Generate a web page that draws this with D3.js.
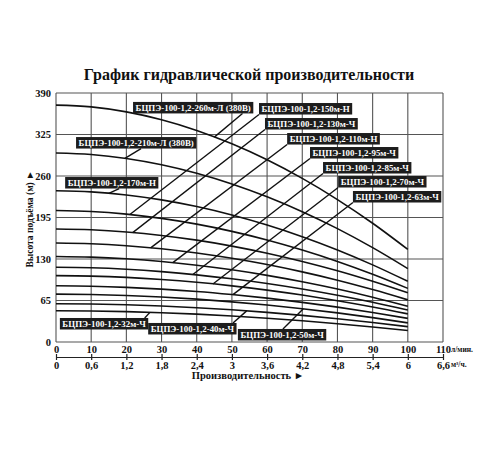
<!DOCTYPE html>
<html><head><meta charset="utf-8">
<script src="https://cdn.jsdelivr.net/npm/d3@7"></script>
<style>
body{margin:0;background:#fff;}
svg{display:block;font-family:"Liberation Serif","Times New Roman",serif;font-weight:bold;}
</style></head>
<body><svg id="c" width="500" height="450"></svg>
<script>
// ---- data ----
const flowLmin = [0,10,20,30,40,50,60,70,80,90,100];
const head260 = [371,368.2,360.4,348.1,331.4,310.4,285.4,256.2,223.1,186,145];
const head210 = [296,293.7,287.5,277.6,264.3,247.5,227.4,204.1,177.6,147.8,115];
const head170 = [237,235.2,230.3,222.6,212.1,198.9,183.2,164.9,144.1,120.8,95];
const head150 = [206,204.5,200.3,193.6,184.6,173.3,159.8,144.0,126.2,106.1,84];
const head130 = [177,175.7,172.3,166.9,159.5,150.2,139.1,126.2,111.6,95.1,77];
const head110 = [155,153.9,150.8,146.0,139.4,131.1,121.3,109.8,96.8,82.1,66];
const head95  = [134,133.0,130.3,126.1,120.3,113.1,104.4,94.4,83.0,70.2,56];
const head85  = [117,116.2,113.9,110.2,105.2,99.0,91.6,83.0,73.2,62.2,50];
const head70  = [104,103.2,101.2,97.9,93.5,87.9,81.3,73.5,64.7,54.9,44];
const head63  = [88,87.4,85.6,82.8,79.1,74.3,68.7,62.1,54.6,46.3,37];
const head50  = [75,74.4,72.9,70.4,67.1,62.9,58.0,52.1,45.6,38.2,30];
const head40  = [60,59.5,58.3,56.3,53.7,50.4,46.4,41.7,36.4,30.5,24];
const head32  = [49,48.6,47.5,45.9,43.6,40.7,37.3,33.3,28.7,23.6,18];
const modelNames = [
 "БЦПЭ-100-1,2-260м-Л (380В)","БЦПЭ-100-1,2-210м-Л (380В)","БЦПЭ-100-1,2-170м-Н",
 "БЦПЭ-100-1,2-150м-Н","БЦПЭ-100-1,2-130м-Ч","БЦПЭ-100-1,2-110м-Н",
 "БЦПЭ-100-1,2-95м-Ч","БЦПЭ-100-1,2-85м-Ч","БЦПЭ-100-1,2-70м-Ч",
 "БЦПЭ-100-1,2-63м-Ч","БЦПЭ-100-1,2-50м-Ч","БЦПЭ-100-1,2-40м-Ч","БЦПЭ-100-1,2-32м-Ч"];
const headSeries = [head260,head210,head170,head150,head130,head110,head95,head85,head70,head63,head50,head40,head32];
const yTicks = [0,65,130,195,260,325,390];
const xTicksLmin = [0,10,20,30,40,50,60,70,80,90,100,110];
const xTicksM3h = [0,0.6,1.2,1.8,2.4,3,3.6,4.2,4.8,5.4,6,6.6];
const titleText = "График гидравлической производительности";
const yTitle = "Высота подъёма (м) ►";
const xTitle = "Производительность ►";

// ---- label annotations (data units): box top-left, leader start fraction along box edge, leader end flow ----
const labelLayout = [
 {q:21.9,h:376,edge:"bottom",f:0.91,endQ:45},
 {q:5.7,h:321,edge:"bottom",f:0.54,endQ:19.6},
 {q:2.6,h:258.4,edge:"bottom",f:0.58,endQ:15},
 {q:57.7,h:374.3,edge:"bottom",f:0,endQ:21},
 {q:59.4,h:350.8,edge:"bottom",f:0,endQ:21.8},
 {q:65.7,h:327.3,edge:"bottom",f:0,endQ:26.9},
 {q:72.2,h:305.4,edge:"bottom",f:0,endQ:33.2},
 {q:75.9,h:281.9,edge:"bottom",f:0,endQ:38.9},
 {q:80.2,h:260,edge:"bottom",f:0,endQ:44.6},
 {q:84.4,h:236.5,edge:"bottom",f:0,endQ:50.3},
 {q:51.7,h:20.4,edge:"top",f:0.51,endQ:70.3},
 {q:26.2,h:29.8,edge:"top",f:0.96,endQ:54.2},
 {q:1.1,h:37.6,edge:"top",f:0.96,endQ:26.7}
];

const svg = d3.select("#c");
const x = d3.scaleLinear().domain([0,110]).range([56,443]);
const x2 = d3.scaleLinear().domain([0,6.6]).range([56,443]);
const y = d3.scaleLinear().domain([0,390]).range([342,93]);
const comma = d => String(d).replace(".", ",");

// title
svg.append("text").attr("x",249).attr("y",80).attr("text-anchor","middle")
  .attr("font-size",16).attr("fill","#111").text(titleText);

// grid
const g = svg.append("g");
g.selectAll("line.v").data(xTicksLmin).join("line")
  .attr("x1",d=>x(d)).attr("x2",d=>x(d)).attr("y1",y(0)).attr("y2",y(390))
  .attr("stroke","#555").attr("stroke-width",1.1);
g.selectAll("line.h").data(yTicks).join("line").attr("class","h")
  .attr("x1",x(0)).attr("x2",x(110)).attr("y1",d=>y(d)).attr("y2",d=>y(d))
  .attr("stroke","#555").attr("stroke-width",1.1);

// y axis
const ya = svg.append("g").attr("transform",`translate(${x(0)},0)`)
  .call(d3.axisLeft(y).tickValues(yTicks).tickSize(0).tickPadding(5));
ya.select(".domain").remove();
ya.selectAll("text").attr("font-size",10.5).attr("fill","#111")
  .attr("font-family","Liberation Serif").attr("font-weight","bold");
svg.append("text").attr("transform",`translate(30,219) rotate(-90)`)
  .attr("text-anchor","middle").attr("dominant-baseline","central")
  .attr("font-size",9.5).attr("fill","#111").text(yTitle);

// x axes
const axY = 357;
const xa1 = svg.append("g").attr("transform",`translate(0,${axY})`)
  .call(d3.axisTop(x).tickValues(xTicksLmin).tickSize(3).tickSizeOuter(0).tickPadding(1));
const xa2 = svg.append("g").attr("transform",`translate(0,${axY})`)
  .call(d3.axisBottom(x2).tickValues(xTicksM3h).tickFormat(comma).tickSize(3).tickSizeOuter(0).tickPadding(2));
[xa1,xa2].forEach(a=>{
  a.select(".domain").attr("stroke","#222").attr("stroke-width",1.2);
  a.selectAll(".tick line").attr("stroke","#222").attr("stroke-width",1.2);
  a.selectAll("text").attr("font-size",10.5).attr("fill","#111")
    .attr("font-family","Liberation Serif").attr("font-weight","bold");
});
svg.append("text").attr("x",451).attr("y",352).attr("font-size",7.5).attr("fill","#111").text("л/мин.");
svg.append("text").attr("x",451).attr("y",367).attr("font-size",7.5).attr("fill","#111").text("м³/ч.");
svg.append("text").attr("x",248).attr("y",379).attr("text-anchor","middle")
  .attr("font-size",10.5).attr("fill","#111").text(xTitle);

// curves
const line = d3.line().x((d,i)=>x(flowLmin[i])).y(d=>y(d)).curve(d3.curveMonotoneX);
svg.append("g").selectAll("path").data(headSeries).join("path")
  .attr("d",line).attr("fill","none").attr("stroke","#111").attr("stroke-width",1.6);

// labels with leaders
const interp = (arr,q)=>{
  const i = Math.min(Math.floor(q/10), arr.length-2);
  const t = (q - flowLmin[i])/(flowLmin[i+1]-flowLmin[i]);
  return arr[i] + (arr[i+1]-arr[i])*t;
};
const lg = svg.append("g");
modelNames.forEach((name,i)=>{
  const L = labelLayout[i];
  const bx = x(L.q), by = y(L.h);
  const grp = lg.append("g");
  const rect = grp.append("rect");
  const t = grp.append("text").attr("x",bx+2.5).attr("y",by+8.9)
    .attr("font-size",8.9).attr("fill","#fff").text(name);
  const w = t.node().getComputedTextLength() + 5;
  const hgt = 11.5;
  rect.attr("x",bx).attr("y",by).attr("width",w).attr("height",hgt).attr("fill","#1d1d1d");
  const sx = bx + w*L.f;
  const sy = L.edge==="bottom" ? by+hgt : by;
  const ex = x(L.endQ), ey = y(interp(headSeries[i], L.endQ));
  lg.insert("line",":first-child").attr("x1",sx).attr("y1",sy).attr("x2",ex).attr("y2",ey)
    .attr("stroke","#111").attr("stroke-width",1.4);
});
</script></body></html>
